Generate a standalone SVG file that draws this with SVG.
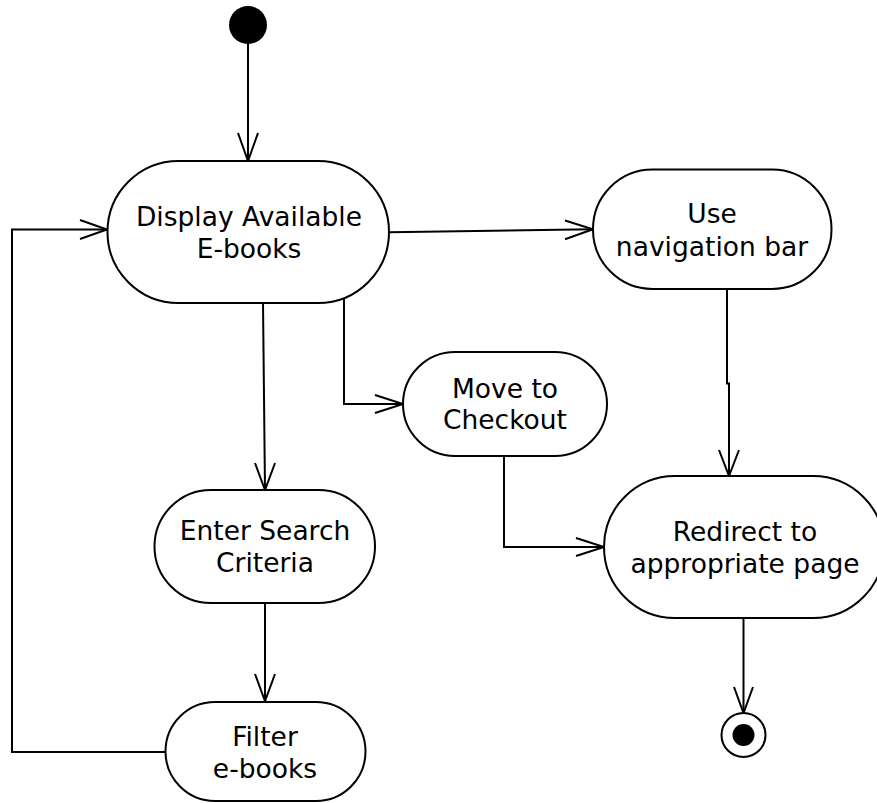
<svg xmlns="http://www.w3.org/2000/svg" width="877" height="803" viewBox="0 0 877 803">
<style>
.node{fill:#fff;stroke:#000;stroke-width:2}
.lbl{font-family:"DejaVu Sans",Verdana,sans-serif;font-size:26.5px;fill:#000;text-anchor:middle}
.edge{fill:none;stroke:#000;stroke-width:2}
.head{fill:none;stroke:#000;stroke-width:2;stroke-linejoin:miter}
</style>
<rect width="877" height="803" fill="#fff"/>
<g id="connectors">
<path class="edge" d="M248,44 V161"/>
<path class="head" d="M238,133 L248,161 L258,133"/>
<path class="edge" d="M389,232.3 L593,229.3"/>
<path class="head" d="M565,220.5 L593,229.3 L565,239.3"/>
<path class="edge" d="M263,303 L265,490"/>
<path class="head" d="M255,463 L265,490 L275,463"/>
<path class="edge" d="M344,297 V404 H403"/>
<path class="head" d="M375,395 L403,404 L375,413"/>
<path class="edge" d="M727,289 V383.5 H729 V476"/>
<path class="head" d="M719,450 L729,476 L739,450"/>
<path class="edge" d="M504,456 V547 H604"/>
<path class="head" d="M576,538 L604,547 L576,556"/>
<path class="edge" d="M265,603 V701"/>
<path class="head" d="M255,674 L265,701 L275,674"/>
<path class="edge" d="M165,752 H12 V229.5 H107"/>
<path class="head" d="M80,220 L107,229.5 L80,239"/>
<path class="edge" d="M743.5,618 V713"/>
<path class="head" d="M734,687 L743.5,713 L753,687"/>
</g>
<g id="start"><circle cx="248" cy="25" r="19" fill="#000"/></g>
<g id="display">
<rect class="node" x="107.5" y="161" width="281.5" height="142" rx="71" ry="71"/>
<text class="lbl" x="249" y="226">Display Available</text>
<text class="lbl" x="249" y="258">E-books</text>
</g>
<g id="usenav">
<rect class="node" x="593" y="169.5" width="238.5" height="119.5" rx="59.5" ry="59.5"/>
<text class="lbl" x="712" y="223">Use</text>
<text class="lbl" x="712" y="256">navigation bar</text>
</g>
<g id="checkout">
<rect class="node" x="403" y="352" width="204" height="104" rx="52" ry="52"/>
<text class="lbl" x="505" y="398">Move to</text>
<text class="lbl" x="505" y="429">Checkout</text>
</g>
<g id="search">
<rect class="node" x="154.5" y="490" width="220.5" height="113" rx="56.5" ry="56.5"/>
<text class="lbl" x="265" y="540">Enter Search</text>
<text class="lbl" x="265" y="572">Criteria</text>
</g>
<g id="redirect">
<rect class="node" x="604" y="476" width="280" height="142" rx="71" ry="71"/>
<text class="lbl" x="745" y="541">Redirect to</text>
<text class="lbl" x="745" y="573">appropriate page</text>
</g>
<g id="filter">
<rect class="node" x="165.5" y="702" width="200" height="99" rx="49.5" ry="49.5"/>
<text class="lbl" x="265" y="746">Filter</text>
<text class="lbl" x="265" y="778">e-books</text>
</g>
<g id="end">
<circle cx="743.5" cy="735" r="22" fill="#fff" stroke="#000" stroke-width="2"/>
<circle cx="743.5" cy="735" r="11" fill="#000"/>
</g>
</svg>
